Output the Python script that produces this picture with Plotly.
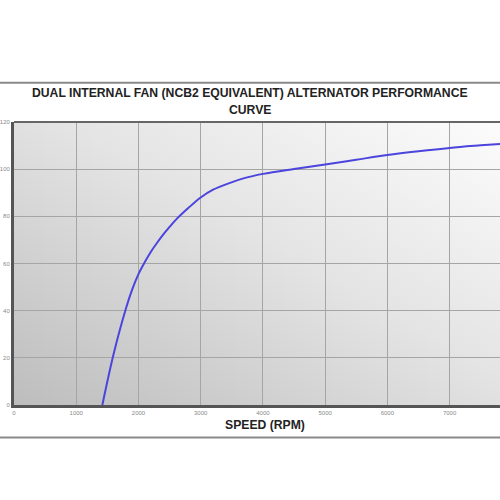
import base64
import plotly.graph_objects as go

# Data
speed_rpm = [1420, 1600, 1800, 1900, 2000, 2100, 2200, 2300, 2400, 2500, 2600,
             2800, 3000, 3200, 3450, 3700, 4000, 4500, 5000, 5500, 6000, 6500, 7000,
             7500, 8000]
output_amps = [0, 21.5, 41, 49, 55.5, 60.5, 65, 68.8, 72.3, 75.5, 78.5,
               83.5, 88, 91.3, 94, 96.2, 98, 100.1, 102, 104, 106, 107.6, 109,
               110.1, 111.1]
x_ticks = [0, 1000, 2000, 3000, 4000, 5000, 6000, 7000, 8000]
y_ticks = [0, 20, 40, 60, 80, 100, 120]

title_line1 = "DUAL INTERNAL FAN (NCB2 EQUIVALENT) ALTERNATOR PERFORMANCE"
title_line2 = "CURVE"
x_title = "SPEED (RPM)"

svg = ('<svg xmlns="http://www.w3.org/2000/svg" width="100" height="100" preserveAspectRatio="none" viewBox="0 0 100 100">'
       '<defs><linearGradient id="g" x1="0" y1="1" x2="1" y2="0">'
       '<stop offset="0" stop-color="#bdbdbd"/><stop offset="0.55" stop-color="#e4e4e4"/>'
       '<stop offset="1" stop-color="#fcfcfc"/></linearGradient></defs>'
       '<rect width="100" height="100" fill="url(#g)"/></svg>')
bg_uri = "data:image/svg+xml;base64," + base64.b64encode(svg.encode()).decode()

fig = go.Figure()
fig.add_trace(go.Scatter(x=speed_rpm, y=output_amps, mode="lines",
                         line=dict(color="#4b44dd", width=2, shape="spline", smoothing=1.0),
                         showlegend=False, hoverinfo="x+y"))

FONT = "Liberation Sans, Arial, sans-serif"
fig.update_layout(
    width=500, height=500,
    margin=dict(l=14, r=0, t=122, b=95),
    paper_bgcolor="white", plot_bgcolor="rgba(0,0,0,0)",
    font=dict(family=FONT, color="#333"),
    xaxis=dict(range=[0, 7810], tickvals=x_ticks, showgrid=True, gridcolor="#a5a5a5", gridwidth=1,
               zeroline=False, showline=True, linecolor="#555", linewidth=3, automargin=False,
               tickfont=dict(size=6, color="#888"), ticks="", fixedrange=True),
    yaxis=dict(range=[0, 120], tickvals=y_ticks, showgrid=True, gridcolor="#a5a5a5", gridwidth=1,
               zeroline=False, showline=True, linecolor="#555", linewidth=3, automargin=False,
               tickfont=dict(size=6, color="#888"), ticks="", fixedrange=True),
    images=[dict(source=bg_uri, xref="paper", yref="paper", x=0, y=1, sizex=1, sizey=1,
                 sizing="stretch", layer="below", xanchor="left", yanchor="top")],
    shapes=[
        dict(type="line", xref="paper", yref="paper", x0=-0.03, x1=1.0, y0=1.139, y1=1.139,
             line=dict(color="#8a8a8a", width=2)),
        dict(type="line", xref="paper", yref="paper", x0=-0.03, x1=1.0, y0=-0.115, y1=-0.115,
             line=dict(color="#8a8a8a", width=2)),
        dict(type="line", xref="paper", yref="paper", x0=0, x1=1.0, y0=1, y1=1,
             line=dict(color="#666", width=2)),
    ],
    annotations=[
        dict(text="<b>%s</b>" % title_line1, xref="paper", yref="paper", x=0.4856, y=1.104,
             showarrow=False, xanchor="center", yanchor="middle",
             font=dict(size=12.2, color="#222", family=FONT)),
        dict(text="<b>%s</b>" % title_line2, xref="paper", yref="paper", x=0.4856, y=1.044,
             showarrow=False, xanchor="center", yanchor="middle",
             font=dict(size=12.2, color="#222", family=FONT)),
        dict(text="<b>%s</b>" % x_title, xref="paper", yref="paper", x=0.516, y=-0.069,
             showarrow=False, xanchor="center", yanchor="middle",
             font=dict(size=12.2, color="#222", family=FONT)),
    ],
)

fig.write_html("out.html", config={"displayModeBar": False},
               post_script="document.body.style.margin='0';")
